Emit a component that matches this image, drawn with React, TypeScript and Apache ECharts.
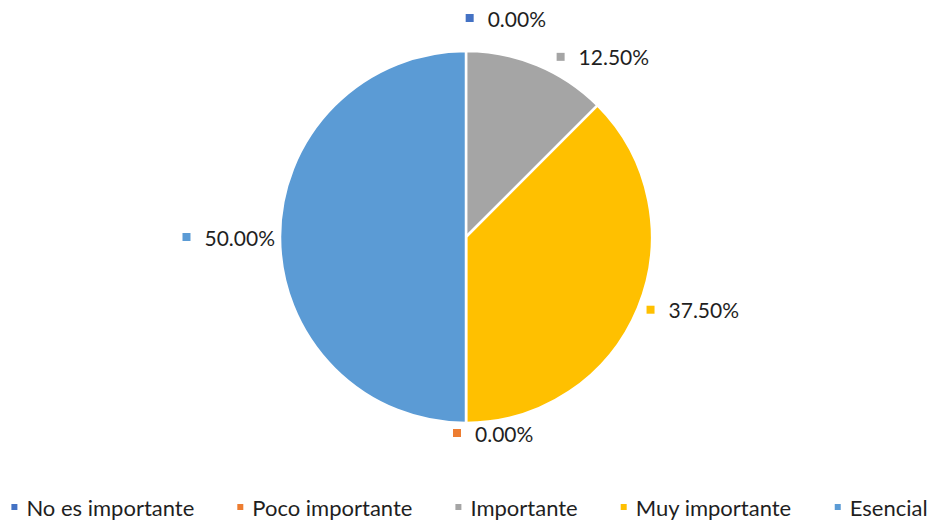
import React, { useEffect, useRef } from "react";
import * as echarts from "echarts";

const categories = ["No es importante", "Poco importante", "Importante", "Muy importante", "Esencial"];
const values = [0, 0, 12.5, 37.5, 50];
const colors = ["#4472C4", "#ED7D31", "#A5A5A5", "#FFC000", "#5B9BD5"];
// order of slices clockwise from the top, as indices into categories
const sliceOrder = [0, 2, 3, 1, 4];
// label line lengths per category (label placement only)
const labelLen = [33, 10, 9, 4, 0];
const labelLen2 = [-85, -18, 11, 0, 0];

const FONT = "Lato";

export default function App() {
  const ref = useRef<HTMLDivElement>(null);
  useEffect(() => {
    if (!ref.current) return;
    const chart = echarts.init(ref.current, null, { renderer: "svg" });
    const data = sliceOrder.map((i) => ({
      name: categories[i],
      value: values[i],
      itemStyle: { color: colors[i] },
      labelLine: { show: false, length: labelLen[i], length2: labelLen2[i] },
      label: {
        formatter: "{m|}{v|" + values[i].toFixed(2) + "%}",
        rich: {
          m: { width: 8, height: 8, backgroundColor: colors[i] },
          v: { fontSize: 21, fontFamily: FONT, color: "#1f1f1f", padding: [0, 0, 0, 14] },
        },
      },
    }));
    chart.setOption({
      animation: false,
      color: colors,
      legend: {
        data: categories,
        top: 496,
        left: "center",
        padding: 0,
        icon: "rect",
        itemWidth: 8,
        itemHeight: 8,
        itemGap: 41,
        textStyle: {
          fontSize: 22,
          lineHeight: 22,
          fontFamily: FONT,
          color: "#1f1f1f",
          padding: [0, 0, 0, 3],
        },
      },
      series: [
        {
          type: "pie",
          center: [466, 237],
          radius: 186,
          startAngle: 90,
          clockwise: true,
          minAngle: 0,
          stillShowZeroSum: true,
          avoidLabelOverlap: false,
          itemStyle: { borderColor: "#ffffff", borderWidth: 2.5 },
          label: { show: true, position: "outside" },
          emphasis: { disabled: true },
          data,
        },
      ],
    });
    return () => chart.dispose();
  }, []);
  return (
    <div
      ref={ref}
      style={{ position: "fixed", left: 0, top: 0, width: 937, height: 521, background: "#fff" }}
    />
  );
}
